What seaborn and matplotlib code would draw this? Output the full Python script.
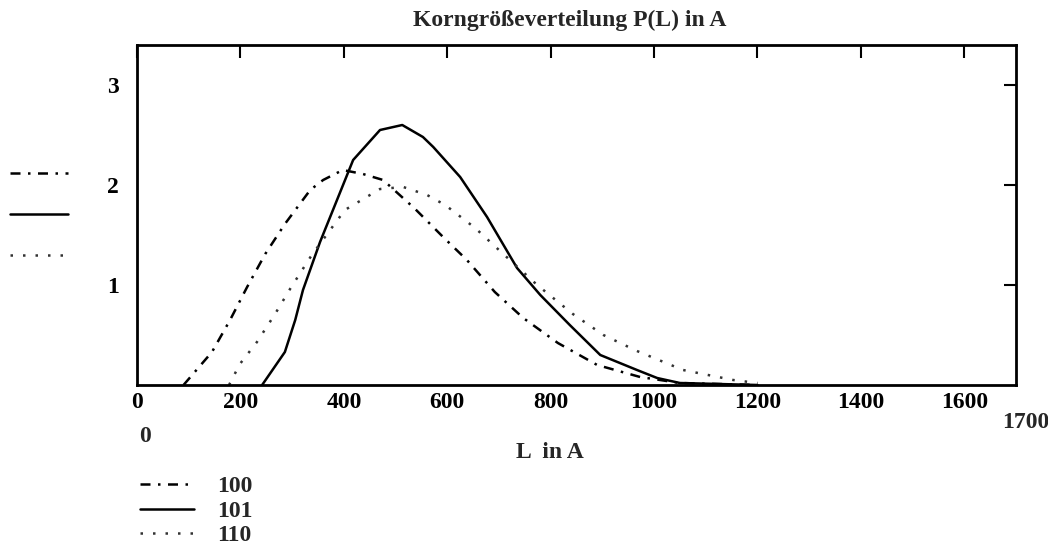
import matplotlib
matplotlib.use('Agg')
import matplotlib.pyplot as plt
from matplotlib.lines import Line2D
import seaborn as sns
import pandas as pd

# Korngroessenverteilung P(L), Werte
L_100 = [90, 145, 180, 213, 248, 286, 335, 360, 398, 437, 476, 538, 592, 638,
         692, 747, 814, 890, 973, 1050, 1200]
P_100 = [0.0, 0.33, 0.65, 0.98, 1.31, 1.61, 1.95, 2.05, 2.15, 2.11, 2.05, 1.76,
         1.48, 1.25, 0.93, 0.67, 0.42, 0.20, 0.08, 0.02, 0.0]

L_101 = [242, 286, 306, 321, 354, 379, 418, 470, 513, 553, 573, 625, 677, 735,
         780, 837, 896, 967, 1006, 1050, 1200]
P_101 = [0.0, 0.33, 0.65, 0.95, 1.43, 1.75, 2.25, 2.55, 2.6, 2.48, 2.38, 2.08,
         1.68, 1.17, 0.9, 0.6, 0.3, 0.15, 0.07, 0.02, 0.0]

L_110 = [178, 199, 232, 267, 296, 338, 402, 470, 515, 561, 596, 654, 700, 774,
         843, 902, 967, 1056, 1153, 1200]
P_110 = [0.0, 0.21, 0.43, 0.71, 0.96, 1.3, 1.75, 1.96, 1.98, 1.9, 1.8, 1.57,
         1.35, 1.0, 0.71, 0.5, 0.34, 0.15, 0.05, 0.02]

series = ['100', '101', '110']
x_ticks = [0, 200, 400, 600, 800, 1000, 1200, 1400, 1600]
y_ticks = [1, 2, 3]

df = pd.concat([
    pd.DataFrame({'L': L_100, 'P': P_100, 'Ebene': '100'}),
    pd.DataFrame({'L': L_101, 'P': P_101, 'Ebene': '101'}),
    pd.DataFrame({'L': L_110, 'P': P_110, 'Ebene': '110'}),
])

sns.set_style('white')
plt.rcParams['font.family'] = ['Liberation Serif', 'DejaVu Serif']
plt.rcParams['font.weight'] = 'bold'
fs = 17

dashes = {'100': (4, 3, 1, 3), '101': '', '110': (1, 4)}
palette = {'100': 'black', '101': 'black', '110': '#333333'}
styles = {'100': (0, (4, 3, 1, 3)), '101': '-', '110': (0, (1, 4))}

fig = plt.figure(figsize=(10.48, 5.5), dpi=100)
ax = fig.add_axes([137 / 1048, 1 - 385 / 550, (1016 - 137) / 1048, (385 - 45) / 550])

sns.lineplot(data=df, x='L', y='P', hue='Ebene', style='Ebene', palette=palette,
             dashes=dashes, sort=False, estimator=None, legend=False, ax=ax,
             linewidth=1.8)

ax.set_xlim(0, 1700)
ax.set_ylim(0, 3.4)
ax.set_xticks(x_ticks)
ax.set_yticks(y_ticks)
ax.set_xlabel('')
ax.set_ylabel('')
ax.tick_params(direction='in', length=9, width=1.5, top=True, right=True,
               labelsize=fs, colors='black')
ax.tick_params(axis='x', pad=5)
ax.tick_params(axis='y', pad=13)
for s in ax.spines.values():
    s.set_linewidth(2)
    s.set_color('black')

fig.text(570 / 1048, 1 - 20 / 550, 'Korngrößeverteilung P(L) in A',
         ha='center', va='center', fontsize=fs)
fig.text(550 / 1048, 1 - 453 / 550, 'L  in A', ha='center', va='center', fontsize=fs)
fig.text(145 / 1048, 1 - 437 / 550, '0', ha='center', va='center', fontsize=fs)
fig.text(1026 / 1048, 1 - 422 / 550, '1700', ha='center', va='center', fontsize=fs)

handles = [Line2D([], [], color=palette[s], linestyle=styles[s], linewidth=1.8)
           for s in series]

fig.legend(handles, ['', '', ''], loc='center left',
           bbox_to_anchor=(10 / 1048, 1 - 216 / 550), frameon=False,
           handlelength=3.2, labelspacing=1.32, handletextpad=0,
           borderpad=0, borderaxespad=0, fontsize=13)
fig.legend(handles, series, loc='center left',
           bbox_to_anchor=(140 / 1048, 1 - 511 / 550), frameon=False,
           handlelength=2.3, labelspacing=0.13, handletextpad=0.95,
           borderpad=0, borderaxespad=0, fontsize=fs)

fig.savefig('out.png', dpi=100)
